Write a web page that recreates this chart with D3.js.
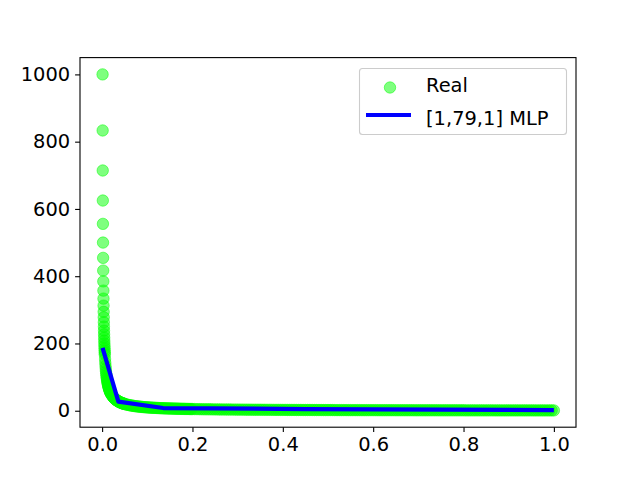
<!DOCTYPE html>
<html>
<head>
<meta charset="utf-8">
<script src="https://cdn.jsdelivr.net/npm/d3@7"></script>
<style>
html,body{margin:0;padding:0;background:#fff;}
svg{display:block;font-family:"DejaVu Sans",sans-serif;}
</style>
</head>
<body>
<svg id="chart" width="640" height="480"></svg>
<script>
// ---- data ----
const realX = [
0.001,0.0012,0.0014,0.0016,0.0018,0.002,0.0022,0.0024,0.0026,0.0028,0.003,0.0032,0.0034,0.0036,0.0038,0.004,0.0042,0.0044,0.0046,0.0048,0.005,0.0052,0.0054,0.0056,0.0058,0.006,
0.0065,0.007,0.0075,0.008,0.0085,0.009,0.0095,0.01,0.0105,0.011,0.0115,0.012,0.0125,0.013,0.0135,0.014,0.0145,0.015,0.0155,0.016,0.0165,0.017,0.0175,0.018,0.0185,0.019,0.0195,0.02,
0.021,0.022,0.023,0.024,0.025,0.026,0.027,0.028,0.029,0.03,0.031,0.032,0.033,0.034,0.035,0.036,0.037,0.038,0.039,0.04,0.041,0.042,0.043,0.044,0.045,0.046,0.047,0.048,0.049,0.05,
0.0525,0.055,0.0575,0.06,0.0625,0.065,0.0675,0.07,0.0725,0.075,0.0775,0.08,0.0825,0.085,0.0875,0.09,0.0925,0.095,0.0975,0.1,
0.1025,0.105,0.1075,0.11,0.1125,0.115,0.1175,0.12,0.1225,0.125,0.1275,0.13,0.1325,0.135,0.1375,0.14,0.1425,0.145,0.1475,0.15,
0.1525,0.155,0.1575,0.16,0.1625,0.165,0.1675,0.17,0.1725,0.175,0.1775,0.18,0.1825,0.185,0.1875,0.19,0.1925,0.195,0.1975,0.2,
0.205,0.21,0.215,0.22,0.225,0.23,0.235,0.24,0.245,0.25,0.255,0.26,0.265,0.27,0.275,0.28,0.285,0.29,0.295,0.3,
0.305,0.31,0.315,0.32,0.325,0.33,0.335,0.34,0.345,0.35,0.355,0.36,0.365,0.37,0.375,0.38,0.385,0.39,0.395,0.4,
0.405,0.41,0.415,0.42,0.425,0.43,0.435,0.44,0.445,0.45,0.455,0.46,0.465,0.47,0.475,0.48,0.485,0.49,0.495,0.5,
0.505,0.51,0.515,0.52,0.525,0.53,0.535,0.54,0.545,0.55,0.555,0.56,0.565,0.57,0.575,0.58,0.585,0.59,0.595,0.6,
0.605,0.61,0.615,0.62,0.625,0.63,0.635,0.64,0.645,0.65,0.655,0.66,0.665,0.67,0.675,0.68,0.685,0.69,0.695,0.7,
0.705,0.71,0.715,0.72,0.725,0.73,0.735,0.74,0.745,0.75,0.755,0.76,0.765,0.77,0.775,0.78,0.785,0.79,0.795,0.8,
0.805,0.81,0.815,0.82,0.825,0.83,0.835,0.84,0.845,0.85,0.855,0.86,0.865,0.87,0.875,0.88,0.885,0.89,0.895,0.9,
0.905,0.91,0.915,0.92,0.925,0.93,0.935,0.94,0.945,0.95,0.955,0.96,0.965,0.97,0.975,0.98,0.985,0.99,0.995,1.0
];
const realY = [
1000,833.3,714.3,625,555.6,500,454.5,416.7,384.6,357.1,333.3,312.5,294.1,277.8,263.2,250,238.1,227.3,217.4,208.3,200,192.3,185.2,178.6,172.4,166.7,
153.8,142.9,133.3,125,117.6,111.1,105.3,100,95.2,90.9,87,83.3,80,76.9,74.1,71.4,69,66.7,64.5,62.5,60.6,58.8,57.1,55.6,54.1,52.6,51.3,50,
47.6,45.5,43.5,41.7,40,38.5,37,35.7,34.5,33.3,32.3,31.3,30.3,29.4,28.6,27.8,27,26.3,25.6,25,24.4,23.8,23.3,22.7,22.2,21.7,21.3,20.8,20.4,20,
19,18.2,17.4,16.7,16,15.4,14.8,14.3,13.8,13.3,12.9,12.5,12.1,11.8,11.4,11.1,10.8,10.5,10.3,10,
9.8,9.5,9.3,9.1,8.9,8.7,8.5,8.3,8.2,8,7.8,7.7,7.5,7.4,7.3,7.1,7,6.9,6.8,6.7,
6.6,6.5,6.3,6.3,6.2,6.1,6,5.9,5.8,5.7,5.6,5.6,5.5,5.4,5.3,5.3,5.2,5.1,5.1,5,
4.9,4.8,4.7,4.5,4.4,4.3,4.3,4.2,4.1,4,3.9,3.8,3.8,3.7,3.6,3.6,3.5,3.4,3.4,3.3,
3.3,3.2,3.2,3.1,3.1,3,3,2.9,2.9,2.9,2.8,2.8,2.7,2.7,2.7,2.6,2.6,2.6,2.5,2.5,
2.5,2.4,2.4,2.4,2.4,2.3,2.3,2.3,2.2,2.2,2.2,2.2,2.2,2.1,2.1,2.1,2.1,2,2,2,
2,2,1.9,1.9,1.9,1.9,1.9,1.9,1.8,1.8,1.8,1.8,1.8,1.8,1.7,1.7,1.7,1.7,1.7,1.7,
1.7,1.6,1.6,1.6,1.6,1.6,1.6,1.6,1.6,1.5,1.5,1.5,1.5,1.5,1.5,1.5,1.5,1.4,1.4,1.4,
1.4,1.4,1.4,1.4,1.4,1.4,1.4,1.4,1.3,1.3,1.3,1.3,1.3,1.3,1.3,1.3,1.3,1.3,1.3,1.3,
1.2,1.2,1.2,1.2,1.2,1.2,1.2,1.2,1.2,1.2,1.2,1.2,1.2,1.1,1.1,1.1,1.1,1.1,1.1,1.1,
1.1,1.1,1.1,1.1,1.1,1.1,1.1,1.1,1.1,1.1,1,1,1,1,1,1,1,1,1,1
];
const mlpX = [0.001, 0.036, 0.135, 0.45, 1.0];
const mlpY = [187, 27, 8, 5, 2];
const xTicks = [0.0, 0.2, 0.4, 0.6, 0.8, 1.0];
const yTicks = [0, 200, 400, 600, 800, 1000];
const legendLabels = ["Real", "[1,79,1] MLP"];

// ---- layout ----
const svg = d3.select("#chart");
const L = 80, R = 576, T = 57.6, B = 427.2;
const fs = 19.44;

const xs = d3.scaleLinear().domain([-0.04895, 1.04895]).range([L, R]);
const ys = d3.scaleLinear().domain([-48.95, 1049.95]).range([B, T]);

const real = realX.map((x, i) => ({x, y: realY[i]}));
const mlp = mlpX.map((x, i) => ({x, y: mlpY[i]}));

// scatter
svg.append("g").selectAll("circle").data(real).join("circle")
  .attr("cx", d => xs(d.x)).attr("cy", d => ys(d.y)).attr("r", 5.7)
  .attr("fill", "#00ff00").attr("fill-opacity", 0.5)
  .attr("stroke", "#00ff00").attr("stroke-opacity", 0.5).attr("stroke-width", 1);

// MLP line
svg.append("path").datum(mlp)
  .attr("d", d3.line().x(d => xs(d.x)).y(d => ys(d.y)))
  .attr("fill", "none").attr("stroke", "#0000ff").attr("stroke-width", 4.2)
  .attr("stroke-linejoin", "round").attr("stroke-linecap", "butt");

// axes
const xAxis = d3.axisBottom(xs).tickValues(xTicks).tickFormat(d3.format(".1f"))
  .tickSize(4.9).tickPadding(4.9);
const yAxis = d3.axisLeft(ys).tickValues(yTicks).tickFormat(d3.format("d"))
  .tickSize(4.9).tickPadding(4.9);

const gx = svg.append("g").attr("transform", `translate(0,${B})`).call(xAxis);
const gy = svg.append("g").attr("transform", `translate(${L},0)`).call(yAxis);
[gx, gy].forEach(g => {
  g.attr("font-size", null).attr("font-family", null);
  g.select(".domain").remove();
  g.selectAll(".tick line").attr("stroke", "#000").attr("stroke-width", 1.1);
  g.selectAll(".tick text").attr("fill", "#000")
    .style("font-family", "'DejaVu Sans', sans-serif").style("font-size", fs + "px");
});

// frame
svg.append("rect").attr("x", L).attr("y", T).attr("width", R - L).attr("height", B - T)
  .attr("fill", "none").attr("stroke", "#000").attr("stroke-width", 1.1);

// legend
const lg = svg.append("g");
lg.append("rect").attr("x", 359.5).attr("y", 68.5).attr("width", 207).attr("height", 66)
  .attr("rx", 3).attr("fill", "#fff").attr("fill-opacity", 0.8)
  .attr("stroke", "#cccccc").attr("stroke-width", 1.1);
lg.append("circle").attr("cx", 390).attr("cy", 87.5).attr("r", 5.7)
  .attr("fill", "#00ff00").attr("fill-opacity", 0.5)
  .attr("stroke", "#00ff00").attr("stroke-opacity", 0.5);
lg.append("line").attr("x1", 366).attr("x2", 411).attr("y1", 115).attr("y2", 115)
  .attr("stroke", "#0000ff").attr("stroke-width", 4.2);
lg.selectAll("text").data(legendLabels).join("text")
  .attr("x", 426).attr("y", (d, i) => 92.3 + i * 32.7)
  .attr("fill", "#000").style("font-size", fs + "px").text(d => d);
</script>
</body>
</html>
